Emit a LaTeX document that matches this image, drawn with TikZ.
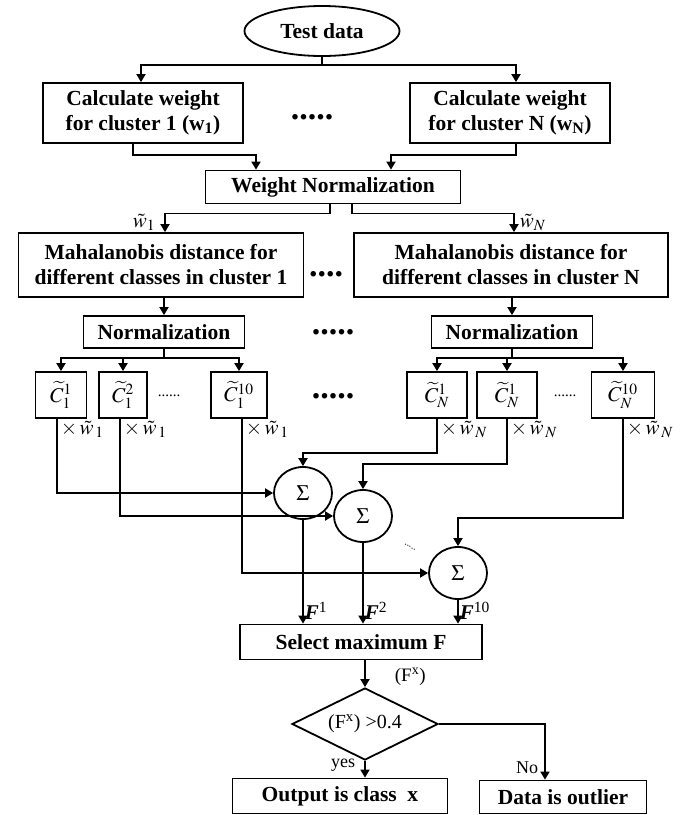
\documentclass[tikz,border=0pt]{standalone}
\usepackage{amsmath,amssymb}
\usepackage{mathptmx}
\usepackage[no-math]{fontspec}
\setmainfont{Liberation Serif}
\usetikzlibrary{arrows.meta,shapes.geometric,positioning}

\begin{document}
\begin{tikzpicture}[
  x=1pt, y=-1pt,
  box/.style={draw, line width=1.8pt, align=center, inner sep=2pt,
              font=\fontsize{21.5}{25}\selectfont\bfseries},
  cbox/.style={draw, line width=1.8pt, minimum height=46pt, inner sep=1pt,
               font=\fontsize{21}{25}\selectfont},
  sum/.style={draw, ellipse, line width=1.8pt, minimum width=58pt, minimum height=52pt,
              inner sep=0pt, font=\fontsize{22}{25}\selectfont},
  arr/.style={-{Triangle[length=8pt,width=9pt]}, line width=1.8pt},
  lbl/.style={inner sep=1pt, font=\fontsize{21}{23}\selectfont},
  wlbl/.style={lbl, anchor=north west, xshift=2pt},
  bigdots/.style={inner sep=0pt, font=\fontsize{34}{34}\selectfont\bfseries},
  smalldots/.style={inner sep=0pt, font=\fontsize{15}{15}\selectfont}
]
\useasboundingbox (0,0) rectangle (690,815);

\node[draw, ellipse, line width=1.8pt, minimum width=155pt, minimum height=50pt,
      font=\fontsize{21.5}{25}\selectfont\bfseries] (test) at (322,31) {Test data};
\node[box, minimum width=200pt, minimum height=60pt] (calc1) at (143,113) {Calculate weight\\for cluster 1 (w\textsubscript{1})};
\node[box, minimum width=200pt, minimum height=60pt] (calcN) at (510,113) {Calculate weight\\for cluster N (w\textsubscript{N})};
\node[bigdots] (dotsA) at (312,117) {.....};
\node[box, minimum width=255pt, minimum height=33pt] (wnorm) at (333,187) {Weight Normalization};
\node[box, minimum width=285pt, minimum height=64pt] (mah1) at (161,265) {Mahalanobis distance for\\different classes in cluster 1};
\node[box, minimum width=314pt, minimum height=64pt] (mahN) at (511,265) {Mahalanobis distance for\\different classes in cluster N};
\node[bigdots] (dotsB) at (326,274) {....};
\node[box, minimum width=161pt, minimum height=32pt] (norm1) at (164,332) {Normalization};
\node[box, minimum width=161pt, minimum height=32pt] (normN) at (512,332) {Normalization};
\node[bigdots] (dotsC) at (333,332) {.....};

\node[cbox, minimum width=51pt] (c11) at (61,395) {$\widetilde{C}_1^{1}$};
\node[cbox, minimum width=48pt] (c12) at (123,395) {$\widetilde{C}_1^{2}$};
\node[smalldots] (dotsE) at (169,396) {......};
\node[cbox, minimum width=56pt] (c110) at (239,395) {$\widetilde{C}_1^{10}$};
\node[bigdots] (dotsD) at (333,396) {.....};
\node[cbox, minimum width=60pt] (cN1) at (437,395) {$\widetilde{C}_N^{1}$};
\node[cbox, minimum width=60pt] (cN1b) at (507,395) {$\widetilde{C}_N^{1}$};
\node[smalldots] (dotsF) at (565,396) {......};
\node[cbox, minimum width=63pt] (cN10) at (623,395) {$\widetilde{C}_N^{10}$};

\node[sum] (s1) at (303,493) {$\Sigma$};
\node[sum] (s2) at (363,516) {$\Sigma$};
\node[sum] (s3) at (458,573) {$\Sigma$};
\node[smalldots, rotate=-30, font=\fontsize{10}{10}\selectfont] (dotsS) at (410,547) {.....};

\node[box, minimum width=242pt, minimum height=35pt] (sel) at (361,642) {Select maximum F};
\node[draw, diamond, shape aspect=2, line width=1.8pt, minimum width=146pt, minimum height=72pt,
      inner sep=0pt, font=\fontsize{20}{22}\selectfont] (dec) at (365,724) {(F\textsuperscript{x}) >0.4};
\node[box, minimum width=215pt, minimum height=35pt] (out) at (340,796) {Output is class\ \ x};
\node[box, minimum width=167pt, minimum height=33pt] (outl) at (563,797) {Data is outlier};

\draw[line width=1.8pt] (test.south) -- ++(0,8) coordinate (split0);
\draw[arr] (split0) -| ([xshift=-2pt]calc1.north);
\draw[arr] (split0) -| ([xshift=6pt]calcN.north);
\draw[arr] ([xshift=-10pt]calc1.south) -- ++(0,11) -| ([xshift=-77pt]wnorm.north);
\draw[arr] ([xshift=6pt]calcN.south) -- ++(0,11) -| ([xshift=58pt]wnorm.north);

\draw[arr] ([xshift=-3pt]wnorm.south) -- ++(0,9) -| ([xshift=4pt]mah1.north)
  node[lbl, pos=0.75, left, xshift=-8pt] {$\tilde{w}_1$};
\draw[arr] ([xshift=19pt]wnorm.south) -- ++(0,9) -| ([xshift=3pt]mahN.north)
  node[lbl, pos=0.75, right, xshift=4pt] {$\tilde{w}_N$};
\draw[arr] (norm1.north |- mah1.south) -- (norm1.north);
\draw[arr] (normN.north |- mahN.south) -- (normN.north);

\draw[line width=1.8pt] (norm1.south) -- ++(0,9) coordinate (split1);
\draw[arr] (split1) -| (c11.north);
\draw[arr] (split1) -| (c12.north);
\draw[arr] (split1) -| (c110.north);
\draw[line width=1.8pt] (normN.south) -- ++(0,9) coordinate (splitN);
\draw[arr] (splitN) -| (cN1.north);
\draw[arr] (splitN) -| (cN1b.north);
\draw[arr] (splitN) -| (cN10.north);

\draw[arr] ([xshift=-4pt]c11.south) node[wlbl] {$\times\,\tilde{w}_{\,1}$} |- (s1.west);
\draw[arr] ([xshift=-3pt]c12.south) node[wlbl] {$\times\,\tilde{w}_{\,1}$} |- (s2.west);
\draw[arr] ([xshift=3pt]c110.south) node[wlbl] {$\times\,\tilde{w}_{\,1}$} |- (s3.west);
\draw[arr] (cN1.south) node[wlbl] {$\times\,\tilde{w}_{\,N}$} -- ++(0,34) -| (s1.north);
\draw[arr] (cN1b.south) node[wlbl] {$\times\,\tilde{w}_{\,N}$} -- ++(0,45) -| (s2.north);
\draw[arr] (cN10.south) node[wlbl] {$\times\,\tilde{w}_{\,N}$} -- ++(0,99) -| (s3.north);

\draw[arr] (s1.south) -- (s1.south |- sel.north)
  node[lbl, at end, anchor=south west, yshift=2pt] {\textbf{\textit{F}}\textsuperscript{1}};
\draw[arr] (s2.south) -- (s2.south |- sel.north)
  node[lbl, at end, anchor=south west, yshift=2pt] {\textbf{\textit{F}}\textsuperscript{2}};
\draw[arr] (s3.south) -- (s3.south |- sel.north)
  node[lbl, at end, anchor=south west, yshift=2pt] {\textbf{\textit{F}}\textsuperscript{10}};

\draw[arr] (dec.north |- sel.south) -- (dec.north)
  node[lbl, at end, anchor=south west, xshift=28pt, font=\fontsize{19}{21}\selectfont] {(F\textsuperscript{x})};
\draw[arr] (dec.south) -- (dec.south |- out.north)
  node[lbl, at end, anchor=south east, xshift=-8pt, yshift=4pt, font=\fontsize{18}{20}\selectfont] {yes};
\draw[arr] (dec.east) -| ([xshift=-18pt]outl.north)
  node[lbl, at end, anchor=south east, xshift=-5pt, yshift=4pt, font=\fontsize{18}{20}\selectfont] {No};
\end{tikzpicture}
\end{document}
